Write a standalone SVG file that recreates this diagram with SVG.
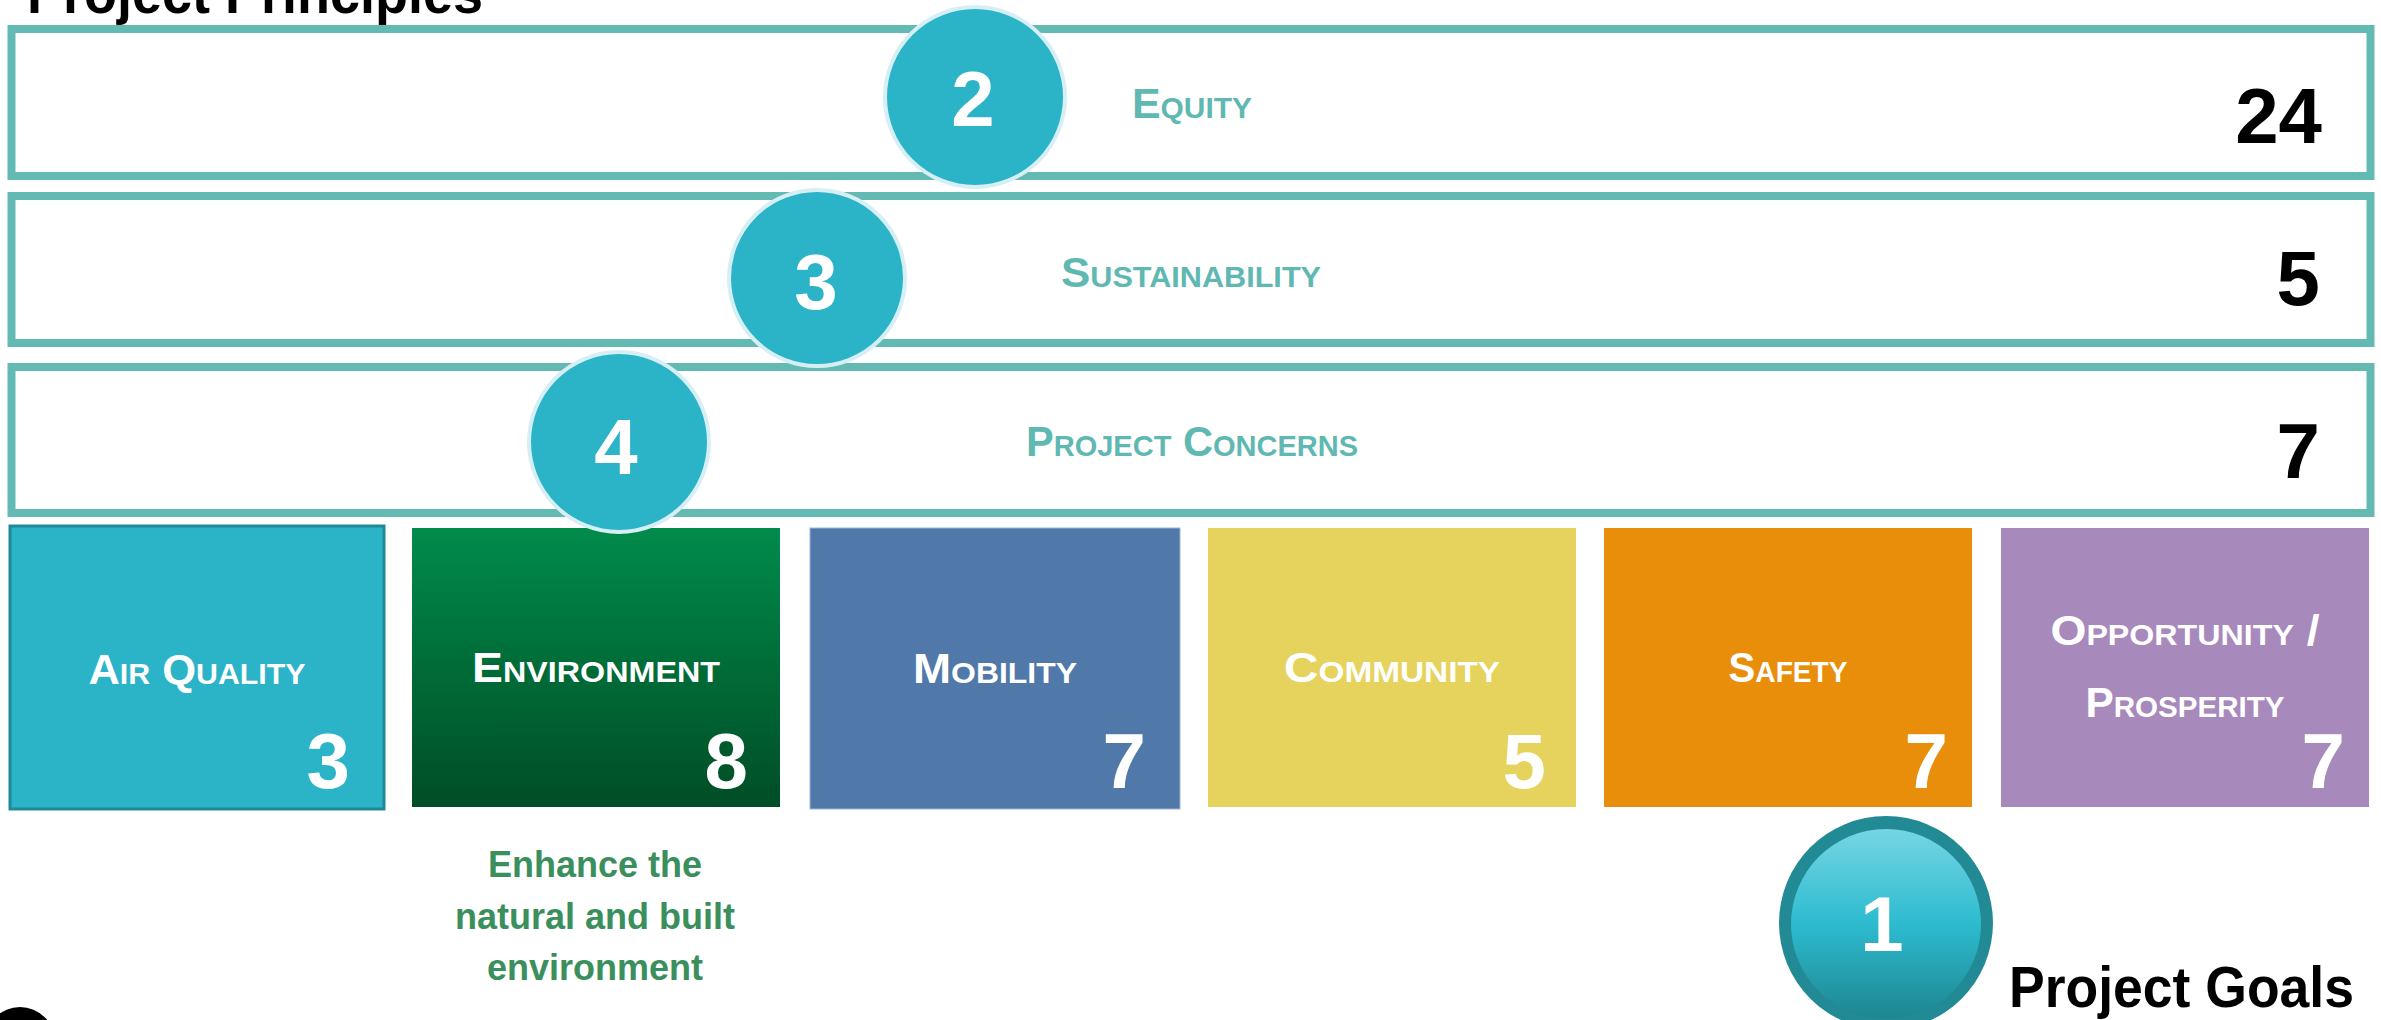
<svg xmlns="http://www.w3.org/2000/svg" width="2381" height="1020" viewBox="0 0 2381 1020">
<style>
text{font-family:"Liberation Sans",Arial,sans-serif;font-weight:bold}
.band{fill:#ffffff;stroke:#62bab3;stroke-width:8}
.pcirc{fill:#2bb3c8;stroke:#d6eff4;stroke-width:4}
.cdig{fill:#ffffff;font-size:78px;text-anchor:middle}
.blbl{fill:#5fb8b1;font-size:43px;font-variant:small-caps}
.bnum{fill:#000000;font-size:78px;text-anchor:end}
.slbl{fill:#ffffff;text-anchor:middle;font-size:43px;font-variant:small-caps}
.snum{fill:#ffffff;font-size:78px;text-anchor:end}
.goal{fill:#3a8f5c;font-size:36px;text-anchor:middle}
.title{fill:#000000;font-size:58px}
</style>
<defs>
<linearGradient id="gEnv" x1="0" y1="0" x2="0" y2="1">
<stop offset="0" stop-color="#008b4b"/>
<stop offset="1" stop-color="#004d25"/>
</linearGradient>
<linearGradient id="gOne" x1="0" y1="0" x2="0" y2="1">
<stop offset="0" stop-color="#76d5e3"/>
<stop offset="0.5" stop-color="#2dbbd0"/>
<stop offset="1" stop-color="#1e8690"/>
</linearGradient>
</defs>

<g id="title-principles">
<text class="title" x="27" y="13" textLength="456" lengthAdjust="spacingAndGlyphs">Project Principles</text>
</g>

<g id="band-equity">
<rect class="band" x="11.5" y="29" width="2359" height="147"/>
<text class="blbl" x="1132" y="118" textLength="120" lengthAdjust="spacingAndGlyphs">Equity</text>
<text class="bnum" x="2322" y="143">24</text>
</g>
<g id="band-sustainability">
<rect class="band" x="11.5" y="196" width="2359" height="147"/>
<text class="blbl" x="1061" y="287" textLength="260" lengthAdjust="spacingAndGlyphs">Sustainability</text>
<text class="bnum" x="2320" y="305">5</text>
</g>
<g id="band-concerns">
<rect class="band" x="11.5" y="367" width="2359" height="146"/>
<text class="blbl" x="1026" y="456" textLength="332" lengthAdjust="spacingAndGlyphs">Project Concerns</text>
<text class="bnum" x="2320" y="478">7</text>
</g>

<g id="sq-air">
<rect x="10" y="526" width="374" height="283" fill="#2bb3c8" stroke="#1f8998" stroke-width="3"/>
<text class="slbl" x="197" y="684" textLength="217" lengthAdjust="spacingAndGlyphs">Air Quality</text>
<text class="snum" x="350" y="788">3</text>
</g>
<g id="sq-environment">
<rect x="412" y="528" width="368" height="279" fill="url(#gEnv)"/>
<text class="slbl" x="596" y="682" textLength="248" lengthAdjust="spacingAndGlyphs">Environment</text>
<text class="snum" x="748" y="788">8</text>
</g>
<g id="sq-mobility">
<rect x="810" y="528" width="370" height="281" fill="#5079aa" stroke="#9fb6d4" stroke-width="1"/>
<text class="slbl" x="995" y="683" textLength="164" lengthAdjust="spacingAndGlyphs">Mobility</text>
<text class="snum" x="1146" y="788">7</text>
</g>
<g id="sq-community">
<rect x="1208" y="528" width="368" height="279" fill="#e6d35e"/>
<text class="slbl" x="1392" y="682" textLength="216" lengthAdjust="spacingAndGlyphs">Community</text>
<text class="snum" x="1546" y="788">5</text>
</g>
<g id="sq-safety">
<rect x="1604" y="528" width="368" height="279" fill="#e88e0b"/>
<text class="slbl" x="1788" y="682" textLength="119" lengthAdjust="spacingAndGlyphs">Safety</text>
<text class="snum" x="1948" y="788">7</text>
</g>
<g id="sq-opportunity">
<rect x="2001" y="528" width="368" height="279" fill="#a889bc"/>
<text class="slbl" x="2185" y="645" textLength="269" lengthAdjust="spacingAndGlyphs">Opportunity /</text>
<text class="slbl" x="2185" y="717" textLength="199" lengthAdjust="spacingAndGlyphs">Prosperity</text>
<text class="snum" x="2345" y="788">7</text>
</g>

<g id="circle-2">
<circle class="pcirc" cx="975" cy="97" r="90"/>
<text class="cdig" x="973" y="126">2</text>
</g>
<g id="circle-3">
<circle class="pcirc" cx="817" cy="278" r="88"/>
<text class="cdig" x="816" y="309">3</text>
</g>
<g id="circle-4">
<circle class="pcirc" cx="619" cy="442" r="90"/>
<text class="cdig" x="616" y="474">4</text>
</g>

<g id="goal-text">
<text class="goal" x="595" y="877">Enhance the</text>
<text class="goal" x="595" y="929">natural and built</text>
<text class="goal" x="595" y="980">environment</text>
</g>

<g id="circle-1">
<circle cx="1886" cy="923" r="107" fill="#218a94"/>
<circle cx="1886" cy="924" r="95" fill="url(#gOne)"/>
<text class="cdig" x="1882" y="951" font-size="76">1</text>
</g>
<g id="title-goals">
<text class="title" x="2009" y="1007" font-size="56" textLength="345" lengthAdjust="spacingAndGlyphs">Project Goals</text>
</g>

<g id="logo-mark">
<circle cx="20" cy="1042" r="35" fill="#000000"/>
</g>

<g id="connectors"/>
</svg>
